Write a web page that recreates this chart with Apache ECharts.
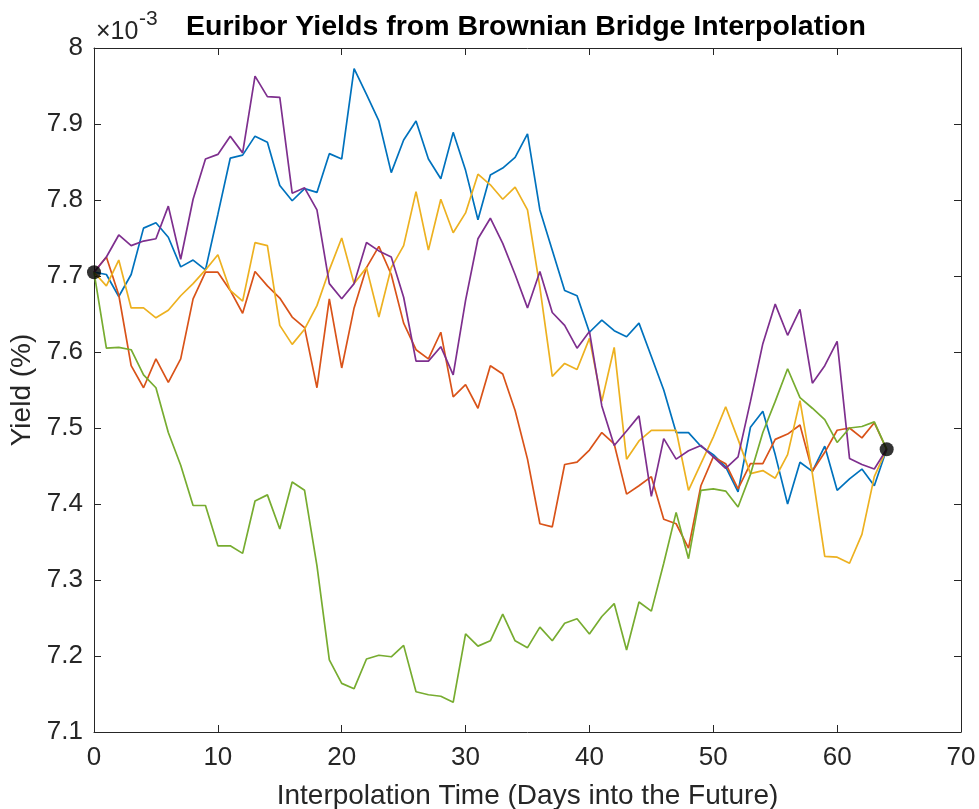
<!DOCTYPE html>
<html>
<head>
<meta charset="utf-8">
<script src="https://cdn.jsdelivr.net/npm/echarts@6/dist/echarts.min.js"></script>
<style>
html,body{margin:0;padding:0;background:#fff;}
#chart{width:979px;height:809px;}
</style>
</head>
<body>
<div id="chart"></div>
<script>
// Yields shown in units of 1e-3 (axis exponent ×10^-3)
const days = Array.from({length: 65}, (_, i) => i);
const blue = [7.705,7.702,7.673,7.702,7.763,7.770,7.751,7.712,7.721,7.708,7.781,7.855,7.859,7.884,7.876,7.819,7.799,7.815,7.810,7.861,7.854,7.973,7.939,7.904,7.836,7.879,7.904,7.854,7.828,7.889,7.839,7.774,7.833,7.842,7.856,7.887,7.787,7.734,7.681,7.674,7.626,7.642,7.628,7.620,7.638,7.594,7.550,7.494,7.494,7.476,7.465,7.449,7.416,7.501,7.522,7.465,7.400,7.455,7.443,7.476,7.418,7.433,7.446,7.424,7.472];
const red = [7.705,7.725,7.675,7.582,7.553,7.591,7.560,7.591,7.670,7.705,7.705,7.681,7.651,7.706,7.687,7.671,7.646,7.632,7.553,7.670,7.579,7.658,7.711,7.739,7.702,7.638,7.603,7.591,7.626,7.541,7.557,7.526,7.582,7.571,7.523,7.459,7.374,7.370,7.452,7.455,7.471,7.494,7.479,7.413,7.424,7.436,7.380,7.374,7.342,7.424,7.462,7.453,7.420,7.453,7.453,7.485,7.492,7.504,7.443,7.468,7.497,7.500,7.487,7.507,7.472];
const yellow = [7.705,7.687,7.721,7.658,7.658,7.645,7.655,7.674,7.690,7.708,7.728,7.681,7.667,7.744,7.740,7.635,7.610,7.630,7.661,7.708,7.750,7.690,7.711,7.646,7.711,7.740,7.811,7.734,7.801,7.757,7.783,7.834,7.820,7.801,7.817,7.787,7.685,7.568,7.585,7.577,7.618,7.535,7.606,7.459,7.483,7.497,7.497,7.497,7.418,7.453,7.488,7.528,7.485,7.440,7.444,7.434,7.465,7.536,7.440,7.331,7.330,7.322,7.360,7.436,7.472];
const purple = [7.705,7.725,7.754,7.740,7.746,7.749,7.792,7.722,7.801,7.854,7.860,7.884,7.862,7.963,7.936,7.935,7.809,7.816,7.787,7.690,7.670,7.690,7.744,7.733,7.725,7.672,7.588,7.588,7.607,7.570,7.668,7.749,7.776,7.743,7.702,7.658,7.706,7.652,7.635,7.605,7.627,7.529,7.477,7.496,7.516,7.410,7.486,7.459,7.470,7.477,7.462,7.447,7.462,7.535,7.611,7.663,7.622,7.656,7.559,7.582,7.614,7.460,7.452,7.446,7.472];
const green = [7.705,7.605,7.606,7.603,7.570,7.553,7.494,7.451,7.398,7.398,7.345,7.345,7.335,7.404,7.412,7.367,7.429,7.418,7.319,7.195,7.164,7.157,7.196,7.201,7.199,7.214,7.153,7.149,7.147,7.139,7.229,7.213,7.220,7.255,7.220,7.211,7.238,7.220,7.243,7.249,7.229,7.252,7.269,7.208,7.271,7.259,7.322,7.389,7.328,7.418,7.420,7.417,7.396,7.439,7.494,7.535,7.578,7.540,7.526,7.511,7.481,7.500,7.502,7.508,7.472];
const endpointDays = [0, 64];
const endpointYields = [7.705, 7.472];
const xTicks = {min: 0, max: 70, interval: 10};
const yTicks = {min: 7.1, max: 8.0, interval: 0.1};

const seriesList = [
  {name: 'path1', values: blue, color: '#0072BD'},
  {name: 'path2', values: red, color: '#D95319'},
  {name: 'path3', values: yellow, color: '#EDB120'},
  {name: 'path4', values: purple, color: '#7E2F8E'},
  {name: 'path5', values: green, color: '#77AC30'}
];

const FONT = '"Liberation Sans", Arial, Helvetica, sans-serif';
const AX = '#262626';
const chart = echarts.init(document.getElementById('chart'), null, {renderer: 'canvas'});

const series = seriesList.map(s => ({
  type: 'line', name: s.name,
  data: days.map((d, i) => [d, s.values[i]]),
  showSymbol: false, symbol: 'none',
  lineStyle: {color: s.color, width: 1.7},
  itemStyle: {color: s.color},
  xAxisIndex: 0, yAxisIndex: 0,
  animation: false, z: 2
}));
series.push({
  type: 'scatter', name: 'endpoints',
  data: endpointDays.map((d, i) => [d, endpointYields[i]]),
  symbol: 'circle', symbolSize: 14,
  itemStyle: {color: '#000'},
  xAxisIndex: 0, yAxisIndex: 0, animation: false, z: 5
});

const tickStyle = {show: true, inside: true, length: 7, lineStyle: {color: AX, width: 1}};
chart.setOption({
  backgroundColor: '#fff',
  animation: false,
  title: {
    text: 'Euribor Yields from Brownian Bridge Interpolation',
    left: 521, top: 8, textAlign: 'center',
    textStyle: {fontFamily: FONT, fontSize: 28.5, fontWeight: 'bold', color: '#000'}
  },
  grid: {left: 94, right: 18, top: 48, bottom: 77, containLabel: false, outerBoundsMode: 'none'},
  xAxis: [
    {type: 'value', position: 'bottom', min: xTicks.min, max: xTicks.max, interval: xTicks.interval,
     name: 'Interpolation Time (Days into the Future)', nameLocation: 'middle', nameGap: 50,
     nameTextStyle: {fontFamily: FONT, fontSize: 28, color: AX},
     axisLine: {show: true, onZero: false, lineStyle: {color: AX, width: 1}},
     axisTick: tickStyle,
     axisLabel: {fontFamily: FONT, fontSize: 26, color: AX, margin: 13},
     splitLine: {show: false}},
    {type: 'value', position: 'top', min: xTicks.min, max: xTicks.max, interval: xTicks.interval,
     axisLine: {show: true, onZero: false, lineStyle: {color: AX, width: 1}},
     axisTick: tickStyle, axisLabel: {show: false}, splitLine: {show: false}}
  ],
  yAxis: [
    {type: 'value', position: 'left', min: yTicks.min, max: yTicks.max, interval: yTicks.interval,
     name: 'Yield (%)', nameLocation: 'middle', nameGap: 48, nameRotate: 90,
     nameTextStyle: {fontFamily: FONT, fontSize: 28, color: AX},
     axisLine: {show: true, onZero: false, lineStyle: {color: AX, width: 1}},
     axisTick: tickStyle,
     axisLabel: {fontFamily: FONT, fontSize: 26, color: AX, margin: 11,
       formatter: v => String(Math.round(v * 10) / 10)},
     splitLine: {show: false}},
    {type: 'value', position: 'right', min: yTicks.min, max: yTicks.max, interval: yTicks.interval,
     axisLine: {show: true, onZero: false, lineStyle: {color: AX, width: 1}},
     axisTick: tickStyle, axisLabel: {show: false}, splitLine: {show: false}}
  ],
  graphic: [
    {type: 'text', left: 96, top: 20, z: 10,
     style: {text: '×10', fontFamily: FONT, fontSize: 25, fill: AX}},
    {type: 'text', left: 139, top: 9, z: 10,
     style: {text: '-3', fontFamily: FONT, fontSize: 21, fill: AX}}
  ],
  series: series
});
</script>
</body>
</html>
